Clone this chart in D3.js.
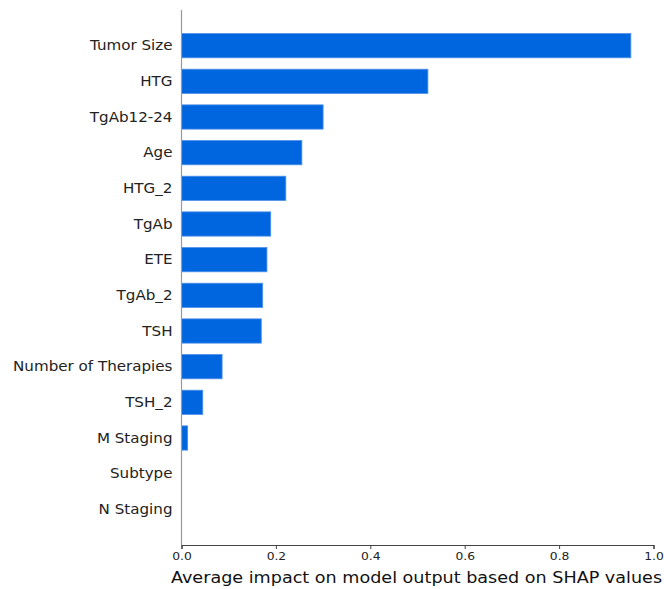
<!DOCTYPE html>
<html>
<head>
<meta charset="utf-8">
<script src="https://cdn.jsdelivr.net/npm/d3@7"></script>
<style>
  html, body { margin: 0; padding: 0; background: #fff; }
  svg { display: block; }
  text { font-family: "DejaVu Sans", sans-serif; }
</style>
</head>
<body>
<svg id="chart" width="664" height="589"></svg>
<script>
// Mean |SHAP| per feature, sorted by importance
const features = ["Tumor Size", "HTG", "TgAb12-24", "Age", "HTG_2", "TgAb", "ETE",
  "TgAb_2", "TSH", "Number of Therapies", "TSH_2", "M Staging", "Subtype", "N Staging"];
const meanShap = [0.952, 0.522, 0.300, 0.255, 0.221, 0.189, 0.181,
  0.172, 0.169, 0.086, 0.045, 0.013, 0, 0];
const xTicks = [0, 0.2, 0.4, 0.6, 0.8, 1.0];
const xLabel = "Average impact on model output based on SHAP values";

const svg = d3.select("#chart");
const plotLeft = 181.5, plotRight = 653.5, plotTop = 10, plotBottom = 545;
const stretch = 1.12; // text is drawn slightly wide

const x = d3.scaleLinear().domain([0, 1]).range([plotLeft, plotRight]);
const y = d3.scaleBand().domain(features).range([plotTop, plotBottom])
  .paddingInner(0.32).paddingOuter(0.66);

// bars
svg.append("g").selectAll("rect").data(features).join("rect")
  .attr("x", x(0))
  .attr("y", d => y(d))
  .attr("width", (d, i) => x(meanShap[i]) - x(0))
  .attr("height", y.bandwidth())
  .attr("fill", "#0066e0")
  .attr("stroke", "#4d8fe8")
  .attr("stroke-width", (d, i) => meanShap[i] > 0 ? 0.8 : 0);

// feature labels
svg.append("g").selectAll("text").data(features).join("text")
  .attr("transform", d => `translate(${plotLeft - 9},${y(d) + y.bandwidth() / 2}) scale(${stretch},1)`)
  .attr("dy", "0.35em")
  .attr("text-anchor", "end")
  .attr("font-size", 13.5)
  .attr("fill", "#222")
  .text(d => d);

// left spine
svg.append("line")
  .attr("x1", plotLeft).attr("x2", plotLeft)
  .attr("y1", plotTop).attr("y2", plotBottom)
  .attr("stroke", "#999").attr("stroke-width", 1.2);

// bottom axis
const xAxis = d3.axisBottom(x).tickValues(xTicks).tickFormat(d3.format(".1f"))
  .tickSize(4).tickPadding(3);
const gx = svg.append("g").attr("transform", `translate(0,${plotBottom})`).call(xAxis);
gx.select(".domain").attr("stroke", "#444").attr("stroke-width", 1.2);
gx.selectAll(".tick line").attr("stroke", "#444");
gx.selectAll(".tick text").attr("font-size", 11).attr("fill", "#222")
  .attr("transform", `scale(${stretch},1)`)
  .attr("x", 0)
  .style("font-family", "DejaVu Sans, sans-serif");

svg.append("text")
  .attr("transform", `translate(416.5,583) scale(1.1,1)`)
  .attr("text-anchor", "middle")
  .attr("font-size", 16)
  .attr("fill", "#111")
  .text(xLabel);
</script>
</body>
</html>
